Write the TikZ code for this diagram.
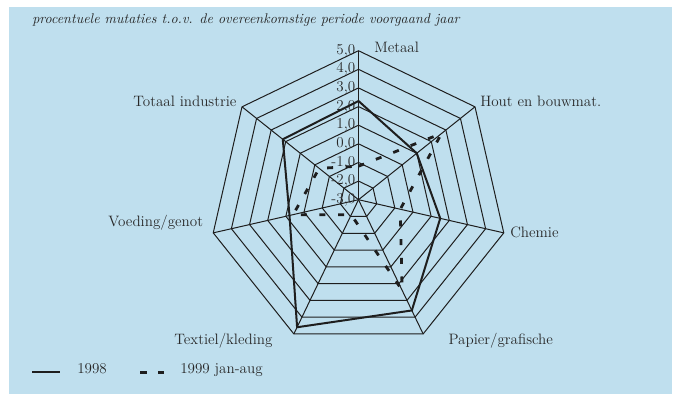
\documentclass[tikz,border=0pt]{standalone}
\usetikzlibrary{calc}
\definecolor{bgblue}{RGB}{191,223,238}
\definecolor{ink}{RGB}{30,30,30}
\definecolor{txt}{RGB}{40,40,40}
\tikzset{
  gridline/.style={draw=ink, line width=0.75},
  line98/.style={draw=ink, line width=1.5, line join=round},
  line99/.style={draw=ink, line width=2.1, dash pattern=on 4.5pt off 9.5pt},
  lbl/.style={inner sep=0pt, text=txt, font=\fontsize{11.3}{13}\selectfont},
  tick/.style={lbl, anchor=base east},
}
\begin{document}
\begin{tikzpicture}[x=0.75pt, y=-0.75pt]
\useasboundingbox (0,0) rectangle (677,394);
\fill[bgblue] (9,7) rectangle (672,394);
\node[lbl, anchor=base west, font=\fontsize{10.5}{12}\selectfont\itshape] (title) at (32,23.3) {procentuele mutaties t.o.v. de overeenkomstige periode voorgaand jaar};
\coordinate (C) at (358.5,199.7);
\begin{scope}[shift={(358.5,199.7)}]
  % rings
  \foreach \k in {1,...,8}{
    \draw[gridline] (-90:\k*18.625) \foreach \i in {1,...,6}{ -- (-90+\i*360/7:\k*18.625)} -- cycle;
  }
  % spokes
  \foreach \i in {0,...,6}{
    \coordinate (ax\i) at (-90+\i*360/7:149);
    \draw[gridline] (0,0) -- (ax\i);
  }
  % tick labels
  \foreach \v [count=\k from 0] in {-3,-2,-1,0,1,2,3,4,5}{
    \node[tick] (t\k) at (-3,{-\k*18.625+3.6}) {\v,0};
  }
  % data 1998
  \foreach \v [count=\i from 0] in {2.3,1.0,1.5,3.6,4.6,0.8,2.2}{
    \coordinate (m\i) at (-90+\i*360/7:{(\v+3)*18.625});
  }
  % data 1999 jan-aug
  \foreach \v [count=\i from 0] in {-1.2,2.7,-0.7,2.4,-2.1,0.6,-0.3}{
    \coordinate (n\i) at (-90+\i*360/7:{(\v+3)*18.625});
  }
\end{scope}
\draw[line98] (m0) -- (m1) -- (m2) -- (m3) -- (m4) -- (m5) -- (m6) -- cycle;
\draw[line99] (n0) -- (n1) -- (n2) -- (n3) -- (n4) -- (n5) -- (n6) -- cycle;
% axis labels
\node[lbl, anchor=base west] (lMetaal) at (374,52.7) {Metaal};
\node[lbl, anchor=base west] (lHout) at (480,106) {Hout en bouwmat.};
\node[lbl, anchor=base west] (lChemie) at (510,237) {Chemie};
\node[lbl, anchor=base west] (lPapier) at (448.3,344.3) {Papier/grafische};
\node[lbl, anchor=base east] (lTextiel) at (272.7,344.3) {Textiel/kleding};
\node[lbl, anchor=base east] (lVoeding) at (203.3,226.7) {Voeding/genot};
\node[lbl, anchor=base east] (lTotaal) at (236.7,106.7) {Totaal industrie};
% legend
\coordinate (s1) at (32,372.3);
\coordinate (s2) at (60,372.3);
\draw[line98, line width=1.6] (s1) -- (s2);
\node[lbl, anchor=base west] (leg98) at (77,373.5) {1998};
\coordinate (d1) at (140,372.3);
\coordinate (d2) at (164,372.3);
\draw[line99, line width=2.4, dash pattern=on 5pt off 8.5pt] (d1) -- (d2);
\node[lbl, anchor=base west] (leg99) at (180,373.5) {1999 jan-aug};
\end{tikzpicture}
\end{document}
